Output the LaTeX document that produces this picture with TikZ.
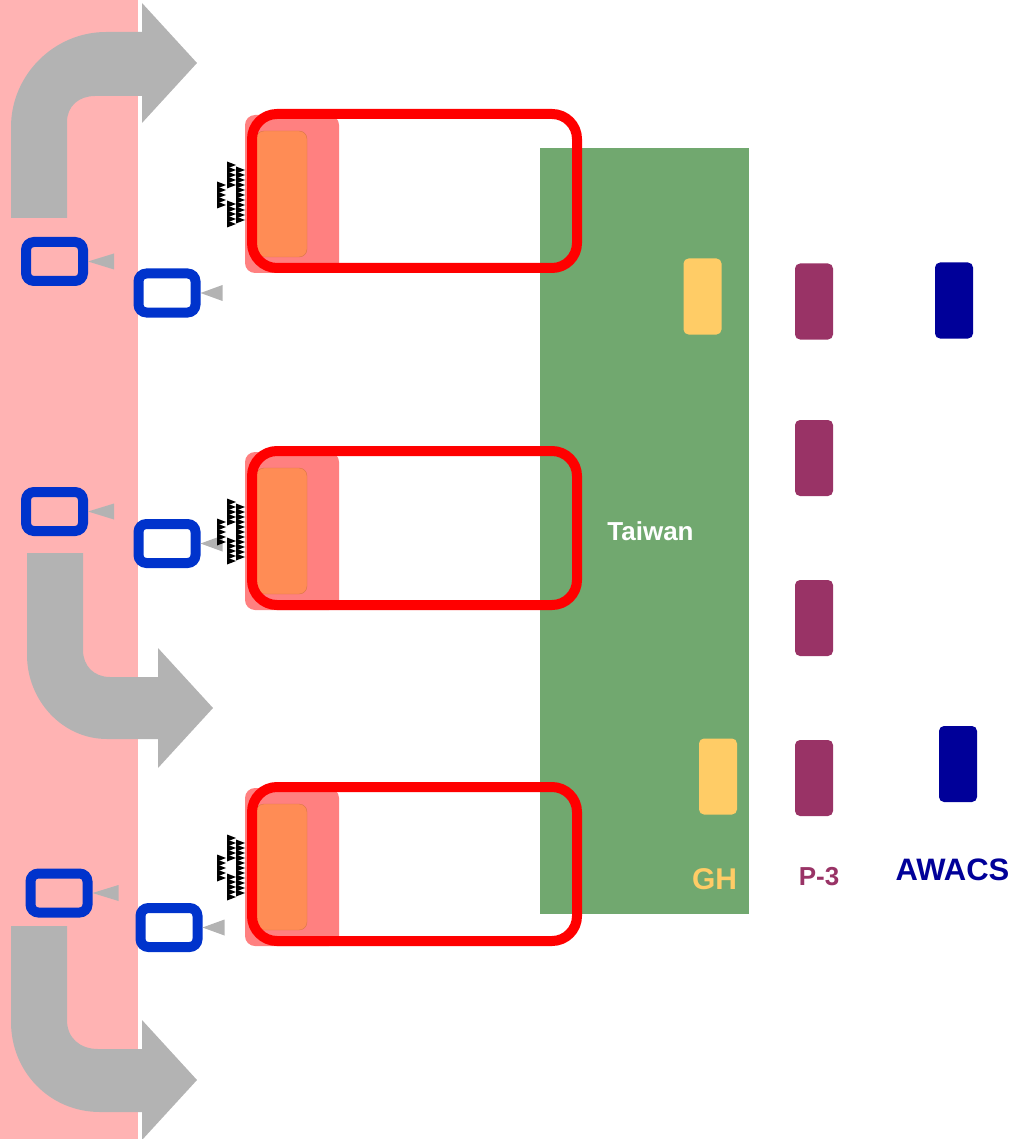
\documentclass[tikz,border=0pt]{standalone}
\usepackage{fontspec}
\setmainfont{Liberation Sans}
\usetikzlibrary{positioning}

\definecolor{bandpink}{RGB}{255,179,179}
\definecolor{arrowgray}{RGB}{179,179,179}
\definecolor{sensorblue}{RGB}{0,51,204}
\definecolor{islandgreen}{RGB}{113,168,111}
\definecolor{coverred}{RGB}{255,128,128}
\definecolor{shiporange}{RGB}{255,140,85}
\definecolor{ghyellow}{RGB}{255,204,102}
\definecolor{pthreepurple}{RGB}{153,51,102}
\definecolor{awacsnavy}{RGB}{0,0,153}

\begin{document}
\begin{tikzpicture}[x=1pt,y=-1pt,
  sensor/.style={draw=sensorblue,line width=10pt,rounded corners=8pt,
    minimum width=57pt,minimum height=39pt,inner sep=0pt},
  cover/.style={fill=coverred,rounded corners=10pt,
    minimum width=94pt,minimum height=158pt,inner sep=0pt},
  shipbox/.style={fill=shiporange,draw=shiporange!85!black,line width=0.4pt,
    rounded corners=8pt,minimum width=51pt,minimum height=126pt,inner sep=0pt},
  zone/.style={draw=red,line width=10pt,rounded corners=25pt,
    minimum width=325pt,minimum height=154pt,inner sep=0pt},
  plane/.style={rounded corners=5pt,minimum width=38pt,minimum height=76pt,inner sep=0pt},
  tag/.style={font=\bfseries\fontsize{#1}{#1}\selectfont,inner sep=0pt}]
  \useasboundingbox (0,0) rectangle (1011,1139);

  % strait
  \fill[bandpink] (0,0) rectangle (138,1139);

  % transit flows
  \fill[arrowgray] (11,218) -- (11,127) .. controls (11,75) and (54,32) .. (106,32)
    -- (142,32) -- (142,3) -- (197,63) -- (142,123) -- (142,96) -- (95,96)
    .. controls (79,96) and (67,106) .. (67,122) -- (67,218) -- cycle;
  \fill[arrowgray] (27,553) -- (27,655) .. controls (27,700) and (62,739) .. (107,739)
    -- (158,739) -- (158,768) -- (213,708) -- (158,648) -- (158,677) -- (110,677)
    .. controls (94,677) and (83,666) .. (83,650) -- (83,553) -- cycle;
  \fill[arrowgray] (11,926) -- (11,1022) .. controls (11,1072) and (50,1112) .. (100,1112)
    -- (142,1112) -- (142,1140) -- (197,1080) -- (142,1020) -- (142,1049) -- (98,1049)
    .. controls (80,1049) and (67,1038) .. (67,1020) -- (67,926) -- cycle;

  % sensors
  \node[sensor] (sensor1a) at (54.5,261.5) {};
  \node[sensor] (sensor1b) at (167,293) {};
  \node[sensor] (sensor2a) at (54.5,511.5) {};
  \node[sensor] (sensor2b) at (167,543.5) {};
  \node[sensor] (sensor3a) at (59,893) {};
  \node[sensor] (sensor3b) at (169,927.5) {};
  \foreach \s in {1a,2a,3a}
    \fill[arrowgray] (sensor\s.east) -- ++(26,-8) -- ++(0,16) -- cycle;
  \foreach \s in {1b,2b,3b}
    \fill[arrowgray] (sensor\s.east) -- ++(22,-8) -- ++(0,16) -- cycle;

  % island
  \node[fill=islandgreen,minimum width=209pt,minimum height=766pt,inner sep=0pt]
    (island) at (644.5,531) {};
  \node[tag=26,text=white] (taiwan) at (650.5,531) {Taiwan};

  % patrol zones
  \foreach \i/\gy in {1/114,2/451,3/787} {
    \node[cover] (cover\i) at (292,\gy+80) {};
    \node[shipbox] (ship\i) at (281.5,\gy+80) {};
    \node[zone] (zone\i) at (414.5,\gy+77) {};
    % jamming
    \foreach \dy in {71,76,...,91}
      \fill (217,\gy+\dy-3.5) -- ++(9,3.5) -- ++(-9,3.5) -- cycle;
    \foreach \dy in {51,56,...,71,90,95,...,110}
      \fill (227,\gy+\dy-3.5) -- ++(9,3.5) -- ++(-9,3.5) -- cycle;
    \foreach \dy in {56,61,...,106}
      \fill (236,\gy+\dy-3.5) -- ++(9,3.5) -- ++(-9,3.5) -- cycle;
  }

  % aircraft
  \node[plane,fill=ghyellow] (gh1) at (702.5,296.5) {};
  \node[plane,fill=ghyellow] (gh2) at (718,776.5) {};
  \node[plane,fill=pthreepurple] (pthree1) at (814,301.5) {};
  \node[plane,fill=pthreepurple] (pthree2) at (814,458) {};
  \node[plane,fill=pthreepurple] (pthree3) at (814,618) {};
  \node[plane,fill=pthreepurple] (pthree4) at (814,778) {};
  \node[plane,fill=awacsnavy] (awacs1) at (954,300.5) {};
  \node[plane,fill=awacsnavy] (awacs2) at (958,764) {};

  \node[tag=30,text=ghyellow] (ghlabel) at (714.5,879) {GH};
  \node[tag=26,text=pthreepurple] (pthreelabel) at (819,876.5) {P-3};
  \node[tag=31,text=awacsnavy] (awacslabel) at (952.5,870) {AWACS};
\end{tikzpicture}
\end{document}
